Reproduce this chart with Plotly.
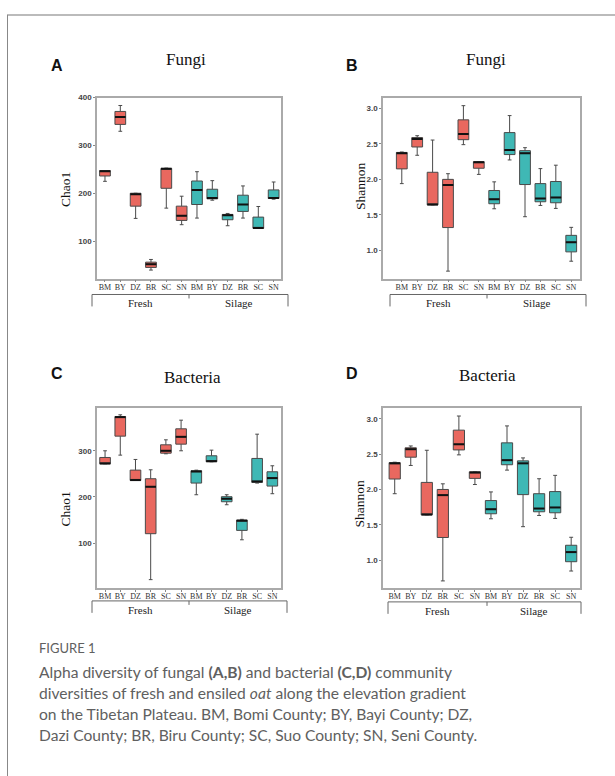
import plotly.graph_objects as go

W, H = 615, 776

sites = ["BM", "BY", "DZ", "BR", "SC", "SN"]
groups = ["Fresh", "Silage"]
colors = {"Fresh": "#E9685F", "Silage": "#3FB8B5"}

# Box statistics per site: [lowerfence, q1, median, q3, upperfence]
fungi_chao1_fresh = [
    [225.5, 236.6, 246.5, 248.0, 248.0],
    [329.7, 344.0, 359.3, 371.0, 383.4],
    [148.3, 173.8, 198.6, 200.7, 200.7],
    [40.7, 46.2, 53.0, 57.2, 62.8],
    [169.7, 211.0, 251.7, 252.4, 253.0],
    [135.2, 144.1, 153.8, 173.8, 194.5],
]
fungi_chao1_silage = [
    [149.0, 177.2, 207.6, 226.2, 245.5],
    [186.2, 189.0, 191.0, 209.0, 226.9],
    [133.0, 145.5, 155.0, 156.6, 158.6],
    [149.0, 162.8, 177.2, 196.6, 215.9],
    [127.6, 127.6, 128.5, 151.0, 173.1],
    [188.3, 189.7, 191.0, 207.6, 224.1],
]
fungi_shannon_fresh = [
    [1.94, 2.148, 2.37, 2.38, 2.386],
    [2.34, 2.457, 2.57, 2.59, 2.616],
    [1.64, 1.64, 1.645, 2.10, 2.555],
    [0.705, 1.32, 1.92, 2.00, 2.08],
    [2.49, 2.56, 2.64, 2.84, 3.04],
    [2.07, 2.157, 2.24, 2.25, 2.25],
]
fungi_shannon_silage = [
    [1.585, 1.656, 1.72, 1.843, 1.965],
    [2.274, 2.35, 2.415, 2.66, 2.90],
    [1.473, 1.927, 2.37, 2.405, 2.447],
    [1.632, 1.684, 1.73, 1.94, 2.152],
    [1.59, 1.67, 1.745, 1.97, 2.20],
    [0.845, 0.977, 1.113, 1.21, 1.323],
]
bact_chao1_fresh = [
    [271.8, 271.8, 272.5, 285.5, 300.0],
    [290.6, 331.8, 373.0, 374.4, 378.0],
    [235.7, 235.7, 236.5, 258.1, 281.2],
    [20.6, 120.2, 222.0, 239.4, 258.8],
    [293.5, 294.8, 300.0, 313.0, 323.8],
    [300.0, 314.4, 330.3, 347.7, 366.4],
]
bact_chao1_silage = [
    [204.7, 230.0, 255.2, 256.7, 258.0],
    [276.2, 276.2, 277.6, 289.2, 301.4],
    [183.0, 189.5, 196.0, 200.4, 204.7],
    [107.0, 127.4, 148.4, 149.8, 151.3],
    [230.0, 231.4, 233.6, 283.4, 336.0],
    [206.9, 223.5, 240.8, 254.5, 267.5],
]
bact_shannon_fresh = [
    [1.94, 2.148, 2.37, 2.38, 2.386],
    [2.34, 2.457, 2.57, 2.59, 2.616],
    [1.64, 1.64, 1.645, 2.10, 2.555],
    [0.705, 1.32, 1.92, 2.00, 2.08],
    [2.49, 2.56, 2.64, 2.84, 3.04],
    [2.07, 2.157, 2.24, 2.25, 2.25],
]
bact_shannon_silage = [
    [1.585, 1.656, 1.72, 1.843, 1.965],
    [2.274, 2.35, 2.415, 2.66, 2.90],
    [1.473, 1.927, 2.37, 2.405, 2.447],
    [1.632, 1.684, 1.73, 1.94, 2.152],
    [1.59, 1.67, 1.745, 1.97, 2.20],
    [0.845, 0.977, 1.113, 1.21, 1.323],
]

chao_ticks_a = [100, 200, 300, 400]
chao_ticks_c = [100, 200, 300]
shannon_ticks = [1.0, 1.5, 2.0, 2.5, 3.0]

panels = [
    dict(letter="A", title="Fungi", ylab="Chao1", data=(fungi_chao1_fresh, fungi_chao1_silage),
         box=(97, 281, 94, 276), xr=(-0.52, 11.48), yr=(23, 400), ticks=chao_ticks_a, fmt="{:.0f}",
         letter_xy=(57, 62), title_xy=(186, 56), ylab_xy=(65, 187), br=(92, 189, 288, 292)),
    dict(letter="B", title="Fungi", ylab="Shannon", data=(fungi_shannon_fresh, fungi_shannon_silage),
         box=(383, 580, 94, 276), xr=(-1.22, 11.57), yr=(0.6, 3.155), ticks=shannon_ticks, fmt="{:.1f}",
         letter_xy=(352, 62), title_xy=(486, 56), ylab_xy=(360, 183), br=(390, 487, 586, 292)),
    dict(letter="C", title="Bacteria", ylab="Chao1", data=(bact_chao1_fresh, bact_chao1_silage),
         box=(97, 281, 406, 587), xr=(-0.53, 11.57), yr=(2.5, 393), ticks=chao_ticks_c, fmt="{:.0f}",
         letter_xy=(57, 371), title_xy=(192, 375), ylab_xy=(65, 508), br=(92, 189, 287, 600)),
    dict(letter="D", title="Bacteria", ylab="Shannon", data=(bact_shannon_fresh, bact_shannon_silage),
         box=(383, 580, 406, 587), xr=(-0.73, 11.55), yr=(0.605, 3.155), ticks=shannon_ticks, fmt="{:.1f}",
         letter_xy=(352, 371), title_xy=(487, 373), ylab_xy=(359, 502), br=(388, 487, 581, 601)),
]

def px(x):
    return x / W

def py(y):
    return 1 - y / H

SERIF = "Liberation Serif"
SANS = "Liberation Sans"

fig = go.Figure()
annotations = []
shapes = []
layout = {}

for i, p in enumerate(panels):
    n = "" if i == 0 else str(i + 1)
    xa, ya = "x" + n, "y" + n
    for gi, g in enumerate(groups):
        stats = p["data"][gi]
        xs = [gi * len(sites) + k for k in range(len(sites))]
        fig.add_trace(go.Box(
            x=xs,
            lowerfence=[s[0] for s in stats],
            q1=[s[1] for s in stats],
            median=[s[2] for s in stats],
            q3=[s[3] for s in stats],
            upperfence=[s[4] for s in stats],
            width=0.7, whiskerwidth=0.35,
            fillcolor=colors[g],
            line=dict(color="#4a4a4a", width=1),
            boxpoints=False, hoverinfo="skip", showlegend=False,
            xaxis=xa, yaxis=ya,
        ))
        fig.add_trace(go.Scatter(
            x=xs, y=[s[2] for s in stats], mode="markers",
            marker=dict(symbol="line-ew", size=7.6, color="black",
                        line=dict(width=2, color="#111111")),
            hoverinfo="skip", showlegend=False, xaxis=xa, yaxis=ya,
        ))
    x0, x1, y0, y1 = p["box"]
    layout["xaxis" + n] = dict(
        domain=[px(x0), px(x1)], range=list(p["xr"]), anchor=ya,
        tickvals=list(range(12)), ticktext=sites + sites,
        tickfont=dict(family=SERIF, size=8, color="#333333"),
        ticks="outside", ticklen=2, tickcolor="#888888", ticklabelstandoff=-2,
        showline=True, mirror=True, linecolor="#aaaaaa", linewidth=1.5,
        showgrid=False, zeroline=False, fixedrange=True,
    )
    layout["yaxis" + n] = dict(
        domain=[py(y1), py(y0)], range=list(p["yr"]), anchor=xa,
        tickvals=p["ticks"], ticktext=["<b>" + p["fmt"].format(t) + "</b>" for t in p["ticks"]],
        tickfont=dict(family=SANS, size=8, color="#444444"),
        ticks="outside", ticklen=2, tickcolor="#888888",
        showline=True, mirror=True, linecolor="#aaaaaa", linewidth=1.5,
        showgrid=False, zeroline=False, fixedrange=True,
    )
    lx, ly = p["letter_xy"]
    annotations.append(dict(x=px(lx), y=py(ly), xref="paper", yref="paper", text="<b>" + p["letter"] + "</b>",
                            showarrow=False, font=dict(family=SANS, size=16, color="#111111"),
                            xanchor="center", yanchor="middle"))
    tx, ty = p["title_xy"]
    annotations.append(dict(x=px(tx), y=py(ty), xref="paper", yref="paper", text=p["title"],
                            showarrow=False, font=dict(family=SERIF, size=17, color="#111111"),
                            xanchor="center", yanchor="middle"))
    yx, yy = p["ylab_xy"]
    annotations.append(dict(x=px(yx), y=py(yy), xref="paper", yref="paper", text=p["ylab"],
                            showarrow=False, textangle=-90, font=dict(family=SERIF, size=13.5, color="#111111"),
                            xanchor="center", yanchor="middle"))
    bl, bm, brr, by = p["br"]
    lc = dict(color="#666666", width=1)
    shapes.append(dict(type="line", xref="paper", yref="paper", x0=px(bl), x1=px(brr), y0=py(by), y1=py(by), line=lc))
    shapes.append(dict(type="line", xref="paper", yref="paper", x0=px(bl), x1=px(bl), y0=py(by), y1=py(by + 12), line=lc))
    shapes.append(dict(type="line", xref="paper", yref="paper", x0=px(brr), x1=px(brr), y0=py(by), y1=py(by + 12), line=lc))
    shapes.append(dict(type="line", xref="paper", yref="paper", x0=px(bm), x1=px(bm), y0=py(by), y1=py(by + 4), line=lc))
    for gx, g in zip(((bl + bm) / 2, (bm + brr) / 2), groups):
        annotations.append(dict(x=px(gx), y=py(by + 9), xref="paper", yref="paper", text=g,
                                showarrow=False, font=dict(family=SERIF, size=11, color="#222222"),
                                xanchor="center", yanchor="middle"))

# outer frame
shapes.append(dict(type="line", xref="paper", yref="paper", x0=px(7), x1=1.02, y0=py(11), y1=py(11),
                   line=dict(color="#bbbbbb", width=2)))
shapes.append(dict(type="line", xref="paper", yref="paper", x0=px(7.5), x1=px(7.5), y0=py(11), y1=-0.02,
                   line=dict(color="#888888", width=1)))

CAP = "Lato"
annotations.append(dict(x=px(37), y=py(647), xref="paper", yref="paper", text="FIGURE 1",
                        showarrow=False, font=dict(family=CAP, size=13, color="#606060"),
                        xanchor="left", yanchor="middle"))
caption_lines = [
    "Alpha diversity of fungal <b>(A,B)</b> and bacterial <b>(C,D)</b> community",
    "diversities of fresh and ensiled <i>oat</i> along the elevation gradient",
    "on the Tibetan Plateau. BM, Bomi County; BY, Bayi County; DZ,",
    "Dazi County; BR, Biru County; SC, Suo County; SN, Seni County.",
]
for k, line in enumerate(caption_lines):
    annotations.append(dict(x=px(37), y=py(671 + 21.4 * k), xref="paper", yref="paper", text=line,
                            showarrow=False, font=dict(family=CAP, size=15.6, color="#606060"),
                            xanchor="left", yanchor="middle"))

fig.update_layout(
    width=W, height=H, margin=dict(l=0, r=0, t=0, b=0),
    paper_bgcolor="white", plot_bgcolor="white",
    annotations=annotations, shapes=shapes, showlegend=False,
    **layout,
)

fig.write_html("out.html", config={"displayModeBar": False})
